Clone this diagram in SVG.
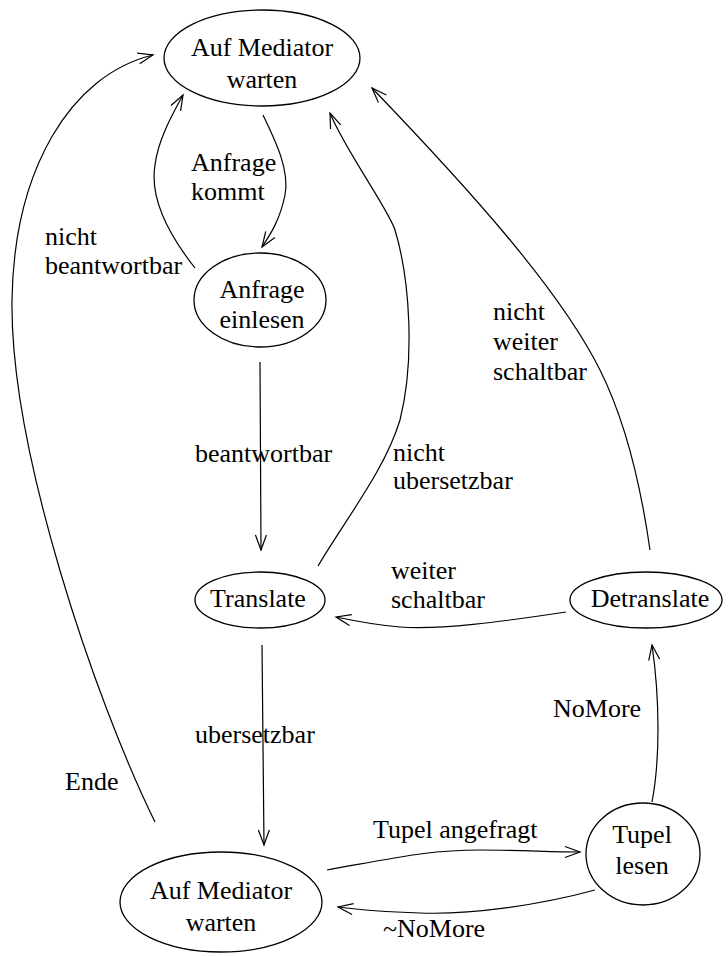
<svg xmlns="http://www.w3.org/2000/svg" width="728" height="956" viewBox="0 0 728 956">
  <style>
    .node ellipse { fill: none; stroke: #000; stroke-width: 1.3; }
    text { font-family: "Liberation Serif", "Times New Roman", serif; font-size: 26px; fill: #000; }
    .node text { text-anchor: middle; }
    .edge path { fill: none; stroke: #000; stroke-width: 1.2; marker-end: url(#arrow); }
  </style>
  <defs>
    <marker id="arrow" viewBox="-16 -7 18 14" refX="0" refY="0" markerWidth="18" markerHeight="14" markerUnits="userSpaceOnUse" orient="auto">
      <path d="M -15 -5.5 L 0 0 L -15 5.5" fill="none" stroke="#000" stroke-width="1.2"/>
    </marker>
  </defs>

  <!-- states -->
  <g id="wait-top" class="node">
    <ellipse cx="262" cy="58" rx="98" ry="48"/>
    <text x="262" y="56">Auf Mediator</text>
    <text x="262" y="88">warten</text>
  </g>
  <g id="read-request" class="node">
    <ellipse cx="260" cy="300" rx="66" ry="47"/>
    <text x="262" y="298">Anfrage</text>
    <text x="262" y="328">einlesen</text>
  </g>
  <g id="translate" class="node">
    <ellipse cx="260" cy="600" rx="65" ry="28"/>
    <text x="258" y="607">Translate</text>
  </g>
  <g id="detranslate" class="node">
    <ellipse cx="646" cy="600" rx="76" ry="28"/>
    <text x="650" y="607">Detranslate</text>
  </g>
  <g id="wait-bottom" class="node">
    <ellipse cx="221" cy="902" rx="101" ry="50"/>
    <text x="221" y="899">Auf Mediator</text>
    <text x="221" y="931">warten</text>
  </g>
  <g id="read-tuple" class="node">
    <ellipse cx="643" cy="854" rx="57" ry="51"/>
    <text x="642" y="843">Tupel</text>
    <text x="642" y="874">lesen</text>
  </g>

  <!-- transitions -->
  <g id="edges" class="edge">
    <path d="M 263 115 C 275 140, 290 170, 285 195 C 280 220, 270 235, 262 247"/>
    <path d="M 195 268 C 165 230, 150 195, 155 165 C 158 140, 172 115, 183 95"/>
    <path d="M 260 362 L 261 550"/>
    <path d="M 318 566 C 345 520, 385 470, 400 420 C 415 360, 410 280, 395 230 C 389 210, 345 150, 330 113"/>
    <path d="M 650 550 C 640 480, 625 420, 600 370 C 560 290, 470 190, 372 88"/>
    <path d="M 566 612 C 500 622, 440 630, 400 627 C 375 625, 355 621, 336 617"/>
    <path d="M 262 645 L 264 845"/>
    <path d="M 155 822 C 95 700, 10 450, 12 300 C 14 170, 70 75, 153 55"/>
    <path d="M 327 870 C 400 857, 430 850, 480 850 C 520 850, 550 852, 580 852"/>
    <path d="M 595 890 C 540 905, 470 915, 420 913 C 385 912, 360 910, 338 907"/>
    <path d="M 652 802 C 660 760, 660 700, 652 645"/>
  </g>

  <!-- transition labels -->
  <g id="labels">
    <text x="191" y="171">Anfrage</text>
    <text x="191" y="200">kommt</text>
    <text x="45" y="245">nicht</text>
    <text x="45" y="274">beantwortbar</text>
    <text x="195" y="462">beantwortbar</text>
    <text x="393" y="461">nicht</text>
    <text x="393" y="489">ubersetzbar</text>
    <text x="493" y="320">nicht</text>
    <text x="493" y="350">weiter</text>
    <text x="493" y="380">schaltbar</text>
    <text x="391" y="579">weiter</text>
    <text x="391" y="608">schaltbar</text>
    <text x="195" y="743">ubersetzbar</text>
    <text x="65" y="790">Ende</text>
    <text x="553" y="717">NoMore</text>
    <text x="373" y="838">Tupel angefragt</text>
    <text x="383" y="937">~NoMore</text>
  </g>
</svg>
